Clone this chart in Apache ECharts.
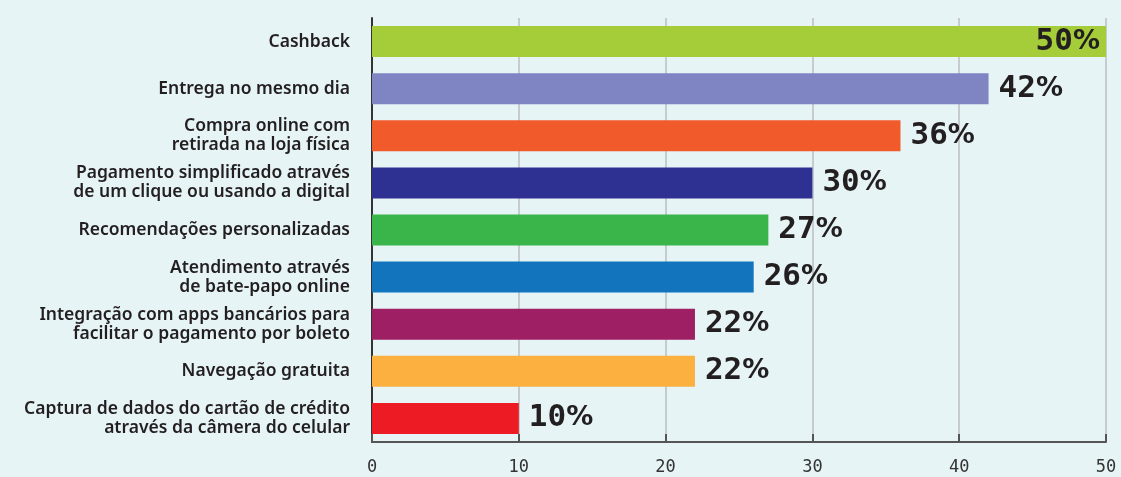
<!DOCTYPE html>
<html><head><meta charset="utf-8">
<script src="https://cdn.jsdelivr.net/npm/echarts@6/dist/echarts.min.js"></script>
<style>html,body{margin:0;padding:0;background:#e6f4f6;}#c{width:1121px;height:477px;}</style>
</head><body><div id="c"></div>
<script>
const categories = [
  "Cashback",
  "Entrega no mesmo dia",
  "Compra online com\nretirada na loja física",
  "Pagamento simplificado através\nde um clique ou usando a digital",
  "Recomendações personalizadas",
  "Atendimento através\nde bate-papo online",
  "Integração com apps bancários para\nfacilitar o pagamento por boleto",
  "Navegação gratuita",
  "Captura de dados do cartão de crédito\natravés da câmera do celular"
];
const values = [50, 42, 36, 30, 27, 26, 22, 22, 10];
const colors = ["#a4cd39","#7f84c2","#f15a2b","#2e3192","#39b54a","#1174bc","#9e1f63","#fbb040","#ed1c24"];
const ticks = [0, 10, 20, 30, 40, 50];

const chart = echarts.init(document.getElementById('c'));
chart.setOption({
  backgroundColor: '#e6f4f6',
  animation: false,
  grid: {left: 372, right: 15, top: 18, bottom: 35, containLabel: false},
  xAxis: {
    type: 'value', min: ticks[0], max: ticks[ticks.length-1], interval: 10,
    axisLine: {show: true, lineStyle: {color: '#555', width: 2}},
    axisTick: {show: true, inside: true, length: 8, lineStyle: {color: '#555', width: 2}},
    splitLine: {show: true, lineStyle: {color: '#c5cbce', width: 2}},
    axisLabel: {fontFamily: 'DejaVu Sans Mono', fontSize: 17, color: '#333', margin: 17}
  },
  yAxis: {
    type: 'category', data: categories, inverse: true,
    axisLine: {show: true, lineStyle: {color: '#333', width: 2}},
    axisTick: {show: false},
    axisLabel: {fontFamily: 'Noto Sans', fontWeight: 600, fontSize: 17.5, color: '#231f20', margin: 22, lineHeight: 19, align: 'right'}
  },
  series: [{
    type: 'bar', barWidth: 31,
    data: values.map((v, i) => ({
      value: v,
      itemStyle: {color: colors[i]},
      label: i === 0 ? {position: 'insideRight', distance: 6} : {position: 'right', distance: 10}
    })),
    label: {
      show: true,
      formatter: p => '{n|' + p.value + '}{p|%}',
      rich: {
        n: {fontFamily: 'DejaVu Sans Mono', fontWeight: 'bold', fontSize: 31, color: '#231f20'},
        p: {fontFamily: 'DejaVu Sans', fontWeight: 'bold', fontSize: 27, color: '#231f20'}
      }
    }
  }]
});
</script></body></html>
